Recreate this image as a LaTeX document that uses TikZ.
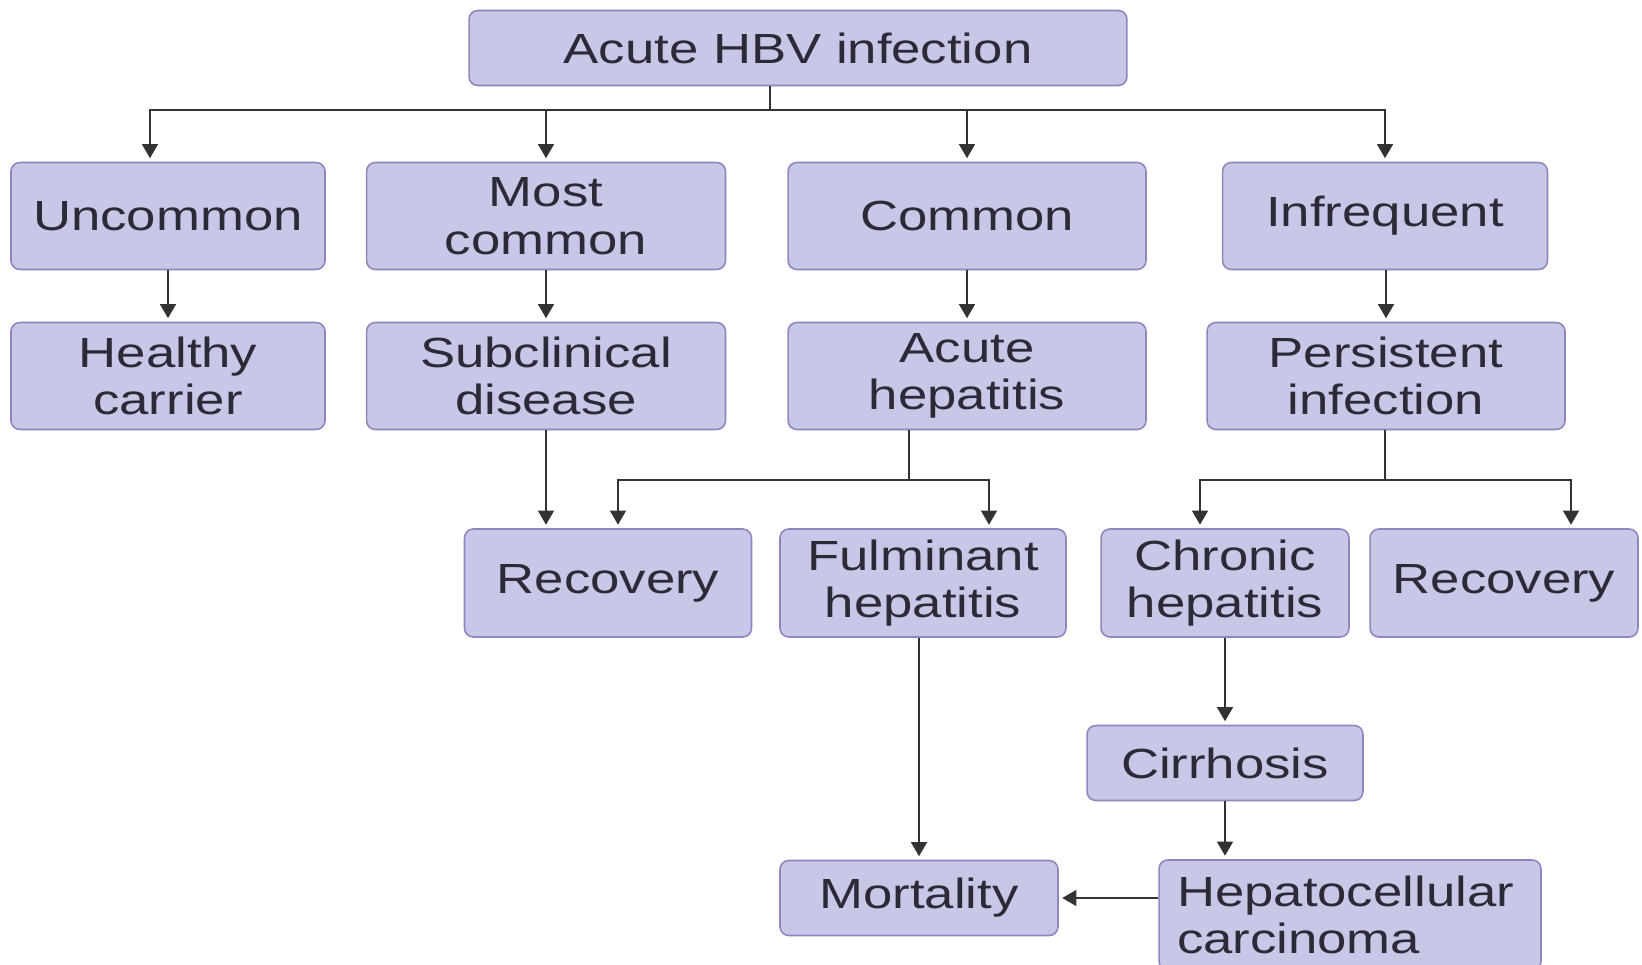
\documentclass[tikz,border=0pt]{standalone}
\usepackage{fontspec}
\setmainfont[FakeStretch=1.25]{Liberation Sans}
\usetikzlibrary{positioning,arrows.meta,calc}
\definecolor{boxfill}{HTML}{C9C7E8}
\definecolor{boxline}{HTML}{8C88BE}
\definecolor{txtcol}{HTML}{2B2B38}

\begin{document}
\begin{tikzpicture}[
    x=0.02cm, y=-0.02cm,
    box/.style={rectangle, rounded corners=5pt, fill=boxfill, draw=boxline, line width=0.9pt,
                text=txtcol, align=center, inner sep=0pt, font=\fontsize{24}{27}\selectfont},
    tallbox/.style={box, minimum height=2.14cm},
    flatbox/.style={box, minimum height=1.5cm},
    arrow/.style={line width=1.1pt, color=black!80, -{Triangle[width=9pt,length=8pt]}, shorten >=2pt},
    link/.style={line width=1.1pt, color=black!80}
]
\useasboundingbox (0,0) rectangle (1642,964);

% Top
\node[flatbox, minimum width=13.16cm] (hbv) at (798,48) {Acute HBV infection};

% Frequency row
\node[tallbox, minimum width=6.28cm] (uncommon) at (168,216) {Uncommon};
\node[tallbox, minimum width=7.18cm] (mostcommon) at (546,216) {Most\\common};
\node[tallbox, minimum width=7.16cm] (common) at (967,216) {Common};
\node[tallbox, minimum width=6.5cm] (infrequent) at (1385,216) {Infrequent};

% Outcome row
\node[tallbox, minimum width=6.28cm] (healthy) at (168,376) {Healthy\\carrier};
\node[tallbox, minimum width=7.18cm] (subclin) at (546,376) {Subclinical\\disease};
\node[tallbox, minimum width=7.16cm] (acutehep) at (967,376) {Acute\\hepatitis};
\node[tallbox, minimum width=7.16cm] (persist) at (1386,376) {Persistent\\infection};

% Third row
\node[tallbox, minimum width=5.74cm, minimum height=2.16cm] (recov1) at (608,583) {Recovery};
\node[tallbox, minimum width=5.72cm, minimum height=2.16cm] (fulm) at (923,583) {Fulminant\\hepatitis};
\node[tallbox, minimum width=4.96cm, minimum height=2.16cm] (chronic) at (1225,583) {Chronic\\hepatitis};
\node[tallbox, minimum width=5.36cm, minimum height=2.16cm] (recov2) at (1504,583) {Recovery};

% Late stages
\node[flatbox, minimum width=5.52cm] (cirrhosis) at (1225,763) {Cirrhosis};
\node[flatbox, minimum width=5.56cm] (mortality) at (919,898) {Mortality};
\node[box, minimum width=7.64cm, minimum height=2.2cm, text width=6.92cm, align=left] (hcc) at (1350,915) {Hepatocellular\\carcinoma};

% Split points
\coordinate (bus) at (770,110);
\coordinate (ahsplit) at (909,480);
\coordinate (pisplit) at (1385,480);

% Top to frequency row
\draw[link] (hbv.south -| bus) -- (bus);
\draw[arrow] (bus) -| ($(uncommon.north)+(-18,0)$);
\draw[arrow] (bus) -| (mostcommon.north);
\draw[arrow] (bus) -| (common.north);
\draw[arrow] (bus) -| (infrequent.north);

% Frequency to outcome
\draw[arrow] (uncommon.south -| healthy) -- (healthy.north);
\draw[arrow] (mostcommon) -- (subclin);
\draw[arrow] (common) -- (acutehep);
\draw[arrow] (infrequent.south -| persist) -- (persist.north);

% Outcome to third row
\draw[arrow] (subclin.south) -- (subclin.south |- recov1.north);
\draw[link] (acutehep.south -| ahsplit) -- (ahsplit);
\draw[arrow] (ahsplit) -| ($(recov1.north)+(10,0)$);
\draw[arrow] (ahsplit) -| ($(fulm.north)+(66,0)$);
\draw[link] (persist.south -| pisplit) -- (pisplit);
\draw[arrow] (pisplit) -| ($(chronic.north)+(-25,0)$);
\draw[arrow] (pisplit) -| ($(recov2.north)+(67,0)$);

% Late stages
\draw[arrow] (chronic) -- (cirrhosis);
\draw[arrow] (cirrhosis.south) -- (cirrhosis.south |- hcc.north);
\draw[arrow] (fulm.south -| mortality) -- (mortality.north);
\draw[arrow] (mortality -| hcc.west) -- (mortality.east);

\end{tikzpicture}
\end{document}
